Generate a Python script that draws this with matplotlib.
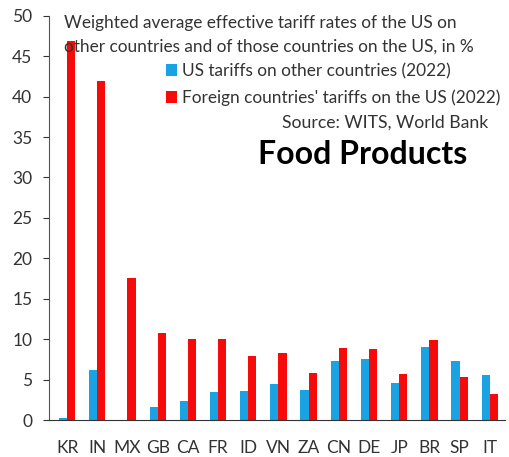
import numpy as np
import matplotlib.pyplot as plt

countries = ["KR", "IN", "MX", "GB", "CA", "FR", "ID", "VN", "ZA", "CN", "DE", "JP", "BR", "SP", "IT"]
us_tariffs = [0.3, 6.2, 0.1, 1.6, 2.4, 3.5, 3.6, 4.5, 3.7, 7.4, 7.6, 4.6, 9.1, 7.4, 5.6]
foreign_tariffs = [46.8, 41.9, 17.6, 10.8, 10.1, 10.1, 8.0, 8.3, 5.8, 8.9, 8.8, 5.7, 9.9, 5.4, 3.3]

plt.rcParams['font.family'] = ['Lato', 'DejaVu Sans']

fig = plt.figure(figsize=(5.1, 4.57), dpi=100)
ax = fig.add_axes([0.096, 0.080, 0.894, 0.886])

x = np.arange(len(countries))
w = 0.27
ax.bar(x - w / 2, us_tariffs, width=w, color='#1AA3E3', label='US tariffs on other countries (2022)')
ax.bar(x + w / 2, foreign_tariffs, width=w, color='#F70A0A', label="Foreign countries' tariffs on the US (2022)")

ax.set_xlim(-0.6, 14.5)
ax.set_ylim(0, 50)
ax.set_yticks(range(0, 51, 5))
ax.set_xticks(x)
ax.set_xticklabels(countries)
ax.tick_params(axis='x', length=0, pad=14, labelsize=12.5, colors='#333333')
ax.tick_params(axis='y', length=4, labelsize=12.5, colors='#333333', pad=8)
for s in ['top', 'right']:
    ax.spines[s].set_visible(False)
ax.spines['left'].set_color('#555555')
ax.spines['bottom'].set_color('#333333')

title_lines = ["Weighted average effective tariff rates of the US on",
               "other countries and of those countries on the US, in %"]
for i, line in enumerate(title_lines):
    fig.text(0.125, 0.9387 - i * 0.0525, line, fontsize=12.4, color='#333333', va='baseline')

ax.legend(loc='upper left', bbox_to_anchor=(0.257, 0.883), frameon=False, fontsize=12.4,
          handlelength=0.65, handleheight=0.65, handletextpad=0.25, labelspacing=0.62,
          borderaxespad=0, borderpad=0, labelcolor='#333333')

fig.text(0.755, 0.731, "Source: WITS, World Bank", fontsize=12.7, color='#333333', ha='center', va='center')
fig.text(0.712, 0.661, "Food Products", fontsize=23, fontweight='bold', color='black', ha='center', va='center')

fig.savefig('out.png', dpi=100)
